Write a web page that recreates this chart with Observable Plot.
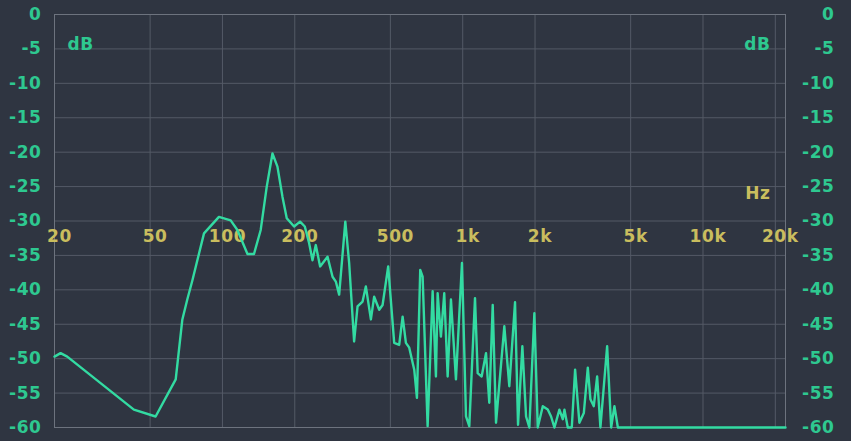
<!DOCTYPE html>
<html><head><meta charset="utf-8">
<script src="https://cdn.jsdelivr.net/npm/d3@7"></script>
<script src="https://cdn.jsdelivr.net/npm/@observablehq/plot@0.6"></script>
<style>
html,body{margin:0;padding:0;background:#2f3541;overflow:hidden;}
</style></head><body><div id="chart"></div>
<script>
// Spectrum values: frequency (Hz) and level (dB)
const freqs = [20, 21.2, 22.6, 42.8, 52.7, 63.9, 68.1, 71.4, 75.0, 83.8,
  96.7, 108.2, 115.4, 127.1, 135.3, 144.3, 152.9, 161.5, 169.4, 177.8,
  185.2, 198.7, 210.4, 220.2, 229.4, 237.0, 244.6, 255.0, 273.8, 287.2,
  296.4, 306.0, 324.6, 336.8, 353.2, 365.0, 383.0, 395.2, 414.8, 428.0,
  449.2, 464.0, 489.6, 518.6, 544.0, 562.2, 580.2, 599.0, 628.4, 644.8,
  665.6, 681.0, 714.4, 749.6, 773.6, 786.4, 811.6, 837.8, 865.6, 893.4,
  937.2, 992.8, 1032, 1065, 1125, 1154, 1199, 1250, 1290, 1333,
  1376, 1490, 1563, 1651, 1699, 1771, 1835, 1894, 1987, 2052,
  2154, 2259, 2332, 2408, 2526, 2610, 2651, 2737, 2844, 2936,
  3059, 3192, 3316, 3400, 3512, 3626, 3742, 3991, 4148, 4280,
  4423, 22050];
const levels = [-49.7, -49.2, -49.7, -57.4, -58.4, -53.0, -44.3, -41.4, -38.6, -31.8,
  -29.4, -29.9, -31.3, -34.8, -34.8, -31.3, -25.0, -20.2, -22.1, -26.5,
  -29.6, -30.8, -30.1, -30.8, -33.2, -35.7, -33.5, -36.6, -35.2, -38.1,
  -38.8, -40.7, -30.1, -36.1, -47.5, -42.4, -41.7, -39.5, -44.3, -41.0,
  -42.9, -42.2, -36.6, -47.7, -48.0, -43.9, -47.7, -48.4, -51.6, -55.7,
  -37.1, -38.1, -59.8, -40.2, -52.6, -40.5, -46.8, -40.5, -52.6, -41.4,
  -53.0, -36.1, -58.4, -59.8, -41.2, -52.1, -52.6, -49.2, -56.4, -42.2,
  -59.3, -45.3, -54.0, -41.8, -59.6, -48.2, -58.4, -60, -43.4, -60,
  -56.9, -57.4, -58.4, -60, -57.4, -58.8, -57.4, -60, -60, -51.6,
  -59.3, -57.9, -51.3, -55.9, -56.9, -52.6, -60, -48.2, -60, -56.9,
  -60, -60];

const xTicks = [20, 50, 100, 200, 500, 1000, 2000, 5000, 10000, 20000];
const xTickLabels = ["20", "50", "100", "200", "500", "1k", "2k", "5k", "10k", "20k"];
const yTicks = [0, -5, -10, -15, -20, -25, -30, -35, -40, -45, -50, -55, -60];
const xLabelLevel = -30;
const xDomain = [20, 22050];
const yDomain = [-60, 0];

const data = freqs.map((f, i) => ({f, db: levels[i]}));

const green = "#2ec890";
const yellow = "#c9bd5e";
const grid = "#545a66";

const chart = Plot.plot({
  width: 851,
  height: 441,
  marginLeft: 54,
  marginRight: 66,
  marginTop: 14,
  marginBottom: 14,
  style: {background: "#2f3541", fontFamily: "DejaVu Sans", fontSize: "17px", fontWeight: "bold", letterSpacing: "0.6px"},
  x: {type: "log", domain: xDomain, axis: null},
  y: {domain: yDomain, axis: null},
  marks: [
    Plot.gridY(yTicks, {stroke: grid, strokeOpacity: 1}),
    Plot.gridX(xTicks, {stroke: grid, strokeOpacity: 1}),
    Plot.frame({stroke: "#6d737e"}),
    Plot.axisY(yTicks, {anchor: "left", label: null, tickSize: 0, tickPadding: 13, fill: green, tickFormat: d => String(d)}),
    Plot.axisY(yTicks, {anchor: "right", label: null, tickSize: 0, tickPadding: 49, textAnchor: "end", fill: green, tickFormat: d => String(d)}),
    Plot.text(xTicks, {x: d => d, y: () => xLabelLevel, text: (d, i) => xTickLabels[i], dy: 16, dx: 5, fill: yellow}),
    Plot.line(data, {x: "f", y: "db", stroke: "#33dba2", strokeWidth: 2.4, strokeLinejoin: "round"}),
    Plot.text(["dB"], {frameAnchor: "top-left", textAnchor: "start", lineAnchor: "middle", dx: 13, dy: 30, fill: green}),
    Plot.text(["dB"], {frameAnchor: "top-right", textAnchor: "end", lineAnchor: "middle", dx: -15, dy: 30, fill: green}),
    Plot.text(["Hz"], {frameAnchor: "top-right", textAnchor: "end", lineAnchor: "middle", dx: -15, dy: 179, fill: yellow})
  ]
});
document.getElementById("chart").appendChild(chart);
</script>
</body></html>
